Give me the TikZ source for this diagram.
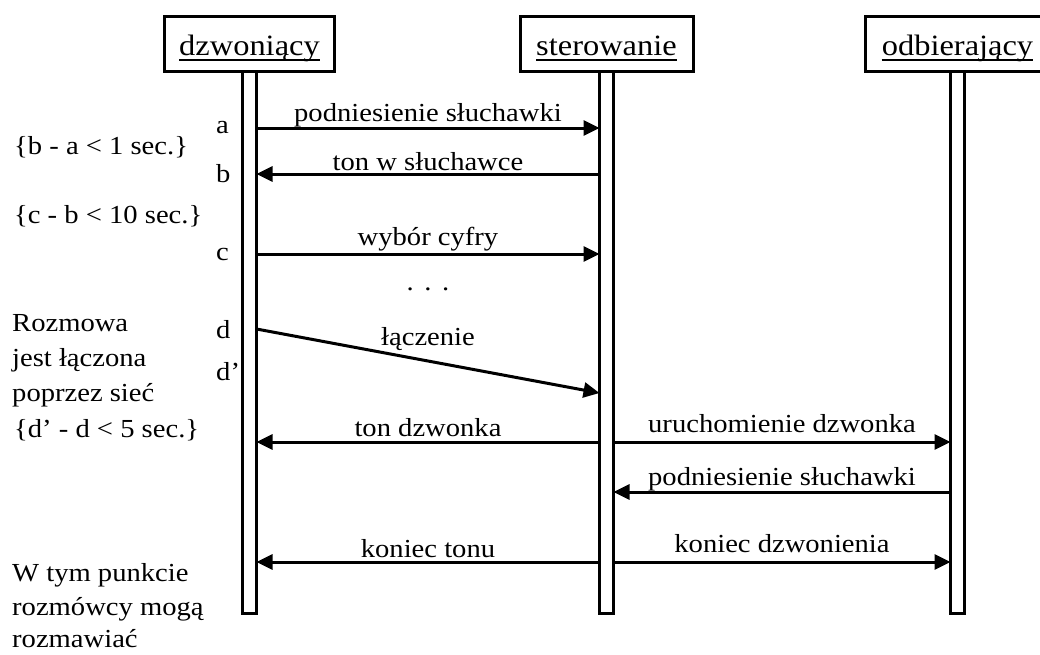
\documentclass[tikz,border=0pt]{standalone}
\usepackage{fontspec}
\setmainfont{Liberation Serif}[FakeStretch=1.1]
\usetikzlibrary{arrows.meta}

\begin{document}
\begin{tikzpicture}[x=1pt,y=-1pt,
  head/.style={draw, line width=3pt, minimum height=55pt, inner sep=0pt, outer sep=0pt},
  life/.style={draw, line width=3pt, minimum width=14pt, minimum height=541.5pt,
               inner sep=0pt, outer sep=0pt, anchor=north},
  htext/.style={font=\fontsize{29.5}{35}\selectfont, inner sep=0pt, anchor=base},
  txt/.style={font=\fontsize{26}{35}\selectfont, inner sep=0pt, anchor=base west},
  plain/.style={font=\fontsize{26}{35}\selectfont, inner sep=0pt, anchor=base},
  lbl/.style={plain, pos=0.5},
  msg/.style={line width=3pt, -{Triangle[length=16pt,width=15pt]}},
  uline/.style={line width=2pt}]
\useasboundingbox (0,0) rectangle (1040,654);

% participants
\node[head, minimum width=170pt] (H1) at (249.5,44) {};
\node[head, minimum width=173pt] (H2) at (606.5,44) {};
\node[head, minimum width=185pt] (H3) at (957.5,44) {};
\node[htext] (T1) at ([yshift=-11pt]H1.center) {dzwoniący};
\node[htext] (T2) at ([yshift=-11pt]H2.center) {sterowanie};
\node[htext] (T3) at ([yshift=-11pt]H3.center) {odbierający};
\draw[uline] ([yshift=-4.5pt]T1.base west) -- ([yshift=-4.5pt]T1.base east);
\draw[uline] ([yshift=-4.5pt]T2.base west) -- ([yshift=-4.5pt]T2.base east);
\draw[uline] ([yshift=-4.5pt]T3.base west) -- ([yshift=-4.5pt]T3.base east);

% lifelines
\node[life] (L1) at (H1.south) {};
\node[life] (L2) at (H2.south) {};
\node[life] (L3) at (H3.south) {};

% message levels
\coordinate (ya) at (0,128);
\coordinate (yb) at (0,174);
\coordinate (yc) at (0,254);
\coordinate (yd) at (0,329);
\coordinate (yd2) at (0,393);
\coordinate (ye) at (0,442);
\coordinate (yf) at (0,492);
\coordinate (yg) at (0,562);

% messages
\draw[msg] (L1.east |- ya) -- node[lbl, yshift=7pt] {podniesienie słuchawki} (L2.west |- ya);
\draw[msg] (L2.west |- yb) -- node[lbl, yshift=4pt] {ton w słuchawce} (L1.east |- yb);
\draw[msg] (L1.east |- yc) -- node[lbl, yshift=9pt] {wybór cyfry} (L2.west |- yc);
\node[plain] (dots) at (428,290) {.\hspace{0.41em}.\hspace{0.41em}.};
\draw[msg] (L1.east |- yd) -- node[lbl, yshift=16pt] {łączenie} (L2.west |- yd2);
\draw[msg] (L2.west |- ye) -- node[lbl, yshift=6pt] {ton dzwonka} (L1.east |- ye);
\draw[msg] (L2.east |- ye) -- node[lbl, yshift=10pt] {uruchomienie dzwonka} (L3.west |- ye);
\draw[msg] (L3.west |- yf) -- node[lbl, yshift=7pt] {podniesienie słuchawki} (L2.east |- yf);
\draw[msg] (L2.west |- yg) -- node[lbl, yshift=5pt] {koniec tonu} (L1.east |- yg);
\draw[msg] (L2.east |- yg) -- node[lbl, yshift=10pt] {koniec dzwonienia} (L3.west |- yg);

% time marks
\node[txt] (ma) at (216,133) {a};
\node[txt] (mb) at (216,182) {b};
\node[txt] (mc) at (216,260) {c};
\node[txt] (md) at (216,338) {d};
\node[txt] (md2) at (216,380) {d’};

% constraints and notes
\node[txt] (n1) at (14,154) {\{b - a < 1 sec.\}};
\node[txt] (n2) at (14,223) {\{c - b < 10 sec.\}};
\node[txt] (n3) at (12,331) {Rozmowa};
\node[txt] (n4) at (12,366) {jest łączona};
\node[txt] (n5) at (12,401) {poprzez sieć};
\node[txt] (n6) at (14,437) {\{d’ - d < 5 sec.\}};
\node[txt] (n7) at (12,581) {W tym punkcie};
\node[txt] (n8) at (12,615) {rozmówcy mogą};
\node[txt] (n9) at (12,647) {rozmawiać};
\end{tikzpicture}
\end{document}
